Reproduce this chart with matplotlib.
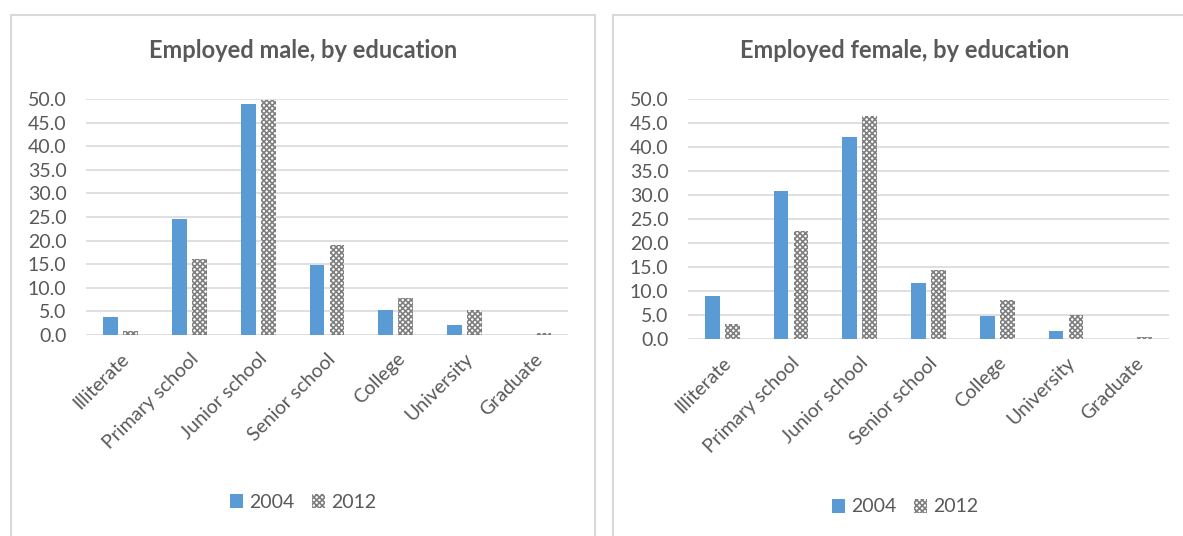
import matplotlib.pyplot as plt
from matplotlib.patches import Rectangle, Patch

# Data (share of employed, %)
categories = ['Illiterate', 'Primary school', 'Junior school', 'Senior school',
              'College', 'University', 'Graduate']
male_2004 = [3.8, 24.6, 48.9, 14.8, 5.2, 2.2, 0.1]
male_2012 = [0.9, 16.0, 49.8, 19.1, 7.8, 5.3, 0.4]
female_2004 = [9.0, 30.9, 42.0, 11.6, 4.8, 1.7, 0.05]
female_2012 = [3.1, 22.5, 46.5, 14.4, 8.1, 5.0, 0.5]
years = ['2004', '2012']

blue = '#5B9BD5'
gray_text = '#595959'
grid_col = '#D9D9D9'

plt.rcParams['font.family'] = ['Lato', 'DejaVu Sans']
plt.rcParams['hatch.linewidth'] = 1.2

fig = plt.figure(figsize=(11.83, 5.36), dpi=100)

# Chart frames
fig.patches.append(Rectangle((11 / 1183, -0.05), 584 / 1183, 1.05 - 15 / 536,
                             transform=fig.transFigure, fill=False,
                             edgecolor=grid_col, lw=1.5))
fig.patches.append(Rectangle((613 / 1183, -0.05), 0.6, 1.05 - 15 / 536,
                             transform=fig.transFigure, fill=False,
                             edgecolor=grid_col, lw=1.5))


def draw_panel(rect, v2004, v2012, title, title_x, legend_y):
    ax = fig.add_axes(rect)
    x = range(len(categories))
    w = 0.215
    off = 0.145
    ax.bar([i - off for i in x], v2004, width=w, color=blue, label=years[0], zorder=3)
    ax.bar([i + off for i in x], v2012, width=w, color='white', edgecolor='#7F7F7F',
           hatch='xxxxxx', linewidth=0, label=years[1], zorder=3)
    ax.set_xlim(-0.5, len(categories) - 0.5)
    ax.set_ylim(0, 50)
    ax.set_yticks(range(0, 51, 5))
    ax.set_yticklabels([f'{v:.1f}' for v in range(0, 51, 5)])
    ax.yaxis.grid(True, color=grid_col, lw=1.2, zorder=0)
    ax.set_axisbelow(True)
    for s in ax.spines.values():
        s.set_visible(False)
    ax.tick_params(axis='both', length=0, colors=gray_text, labelsize=14)
    ax.tick_params(axis='y', pad=14)
    ax.set_xticks(list(x))
    ax.set_xticklabels(categories, rotation=45, ha='right', rotation_mode='anchor')
    ax.tick_params(axis='x', pad=11)
    fig.text(title_x, 1 - 50 / 536, title, ha='center', va='center',
             fontsize=17, fontweight='bold', color=gray_text)
    handles = [Patch(facecolor=blue, label=years[0]),
               Patch(facecolor='white', edgecolor='#7F7F7F', hatch='xxxxxx',
                     linewidth=0, label=years[1])]
    fig.legend(handles=handles, loc='center', bbox_to_anchor=(title_x, legend_y),
               ncol=2, frameon=False, fontsize=14, labelcolor=gray_text,
               handlelength=0.7, handleheight=0.7, handletextpad=0.3,
               columnspacing=0.9)
    return ax


draw_panel([86 / 1183, 1 - 335 / 536, 482 / 1183, 236 / 536],
           male_2004, male_2012, 'Employed male, by education',
           303 / 1183, 1 - 502 / 536)
draw_panel([688 / 1183, 1 - 339 / 536, 481 / 1183, 240 / 536],
           female_2004, female_2012, 'Employed female, by education',
           905 / 1183, 1 - 507 / 536)

fig.savefig('out.png', dpi=100)
